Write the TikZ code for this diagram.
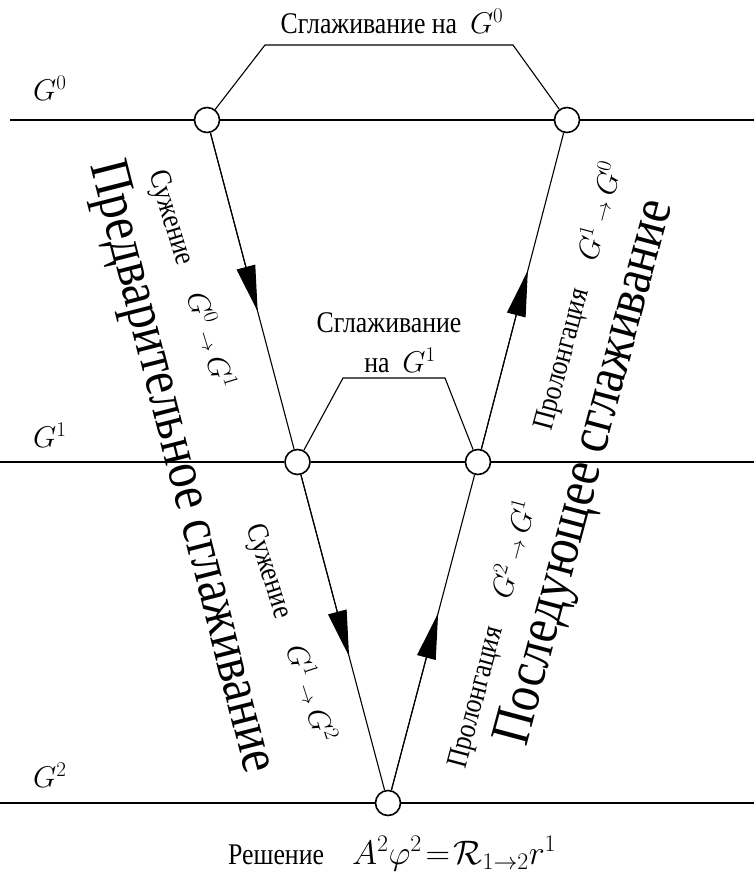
\RequirePackage{fix-cm}
\documentclass[tikz,border=0pt]{standalone}
\usepackage{fontspec}
\setmainfont[FakeStretch=0.86]{Liberation Serif}
\usetikzlibrary{arrows.meta,calc}
\begin{document}
\begin{tikzpicture}[x=1pt,y=-1pt,
  hline/.style={line width=1.8pt},
  sline/.style={line width=1.1pt},
  vtx/.style={circle, draw, fill=white, line width=1.6pt, minimum size=25pt, inner sep=0pt},
  arr/.style={-{Triangle[length=46pt,width=19pt]}, line width=1.1pt},
  lbl/.style={font=\fontsize{30}{36}\selectfont, inner sep=0pt},
  big/.style={font=\fontsize{56}{64}\selectfont, inner sep=0pt}]
\useasboundingbox (0,0) rectangle (754,876);
% vertices
\node[vtx] (c00) at (207,120) {};
\node[vtx] (c01) at (567,120) {};
\node[vtx] (c10) at (297.5,462) {};
\node[vtx] (c11) at (478,462) {};
\node[vtx] (c2) at (388,803) {};
% level lines
\coordinate (L0) at (10,120);  \coordinate (R0) at (754,120);
\coordinate (L1) at (0,462);   \coordinate (R1) at (754,462);
\coordinate (L2) at (0,803);   \coordinate (R2) at (754,803);
\draw[hline] (L0) -- (c00) -- (c01) -- (R0);
\draw[hline] (L1) -- (c10) -- (c11) -- (R1);
\draw[hline] (L2) -- (c2) -- (R2);
% level labels
\node[lbl, anchor=base west] (g0) at (33,100) {$G^0$};
\node[lbl, anchor=base west] (g1) at (33,447) {$G^1$};
\node[lbl, anchor=base west] (g2) at (33,787) {$G^2$};
% smoothing trapezoids
\coordinate (a0) at (265,45); \coordinate (b0) at (513,45);
\draw[sline] (c00) -- (a0) -- (b0) -- (c01);
\coordinate (a1) at (343,378); \coordinate (b1) at (445,378);
\draw[sline] (c10) -- (a1) -- (b1) -- (c11);
\node[lbl, anchor=base] (t0) at (392,33) {Сглаживание на\ \ $G^0$};
\node[lbl, anchor=base] (t1a) at (389,332) {Сглаживание};
\node[lbl, anchor=base] (t1b) at (400,372) {на\ \ $G^1$};
% V-cycle legs
\draw[sline] (c00) -- (c10);
\draw[sline] (c10) -- (c2);
\draw[sline] (c2) -- (c11);
\draw[sline] (c11) -- (c01);
\draw[arr] (c00) -- ($(c00)!0.56!(c10)$);
\draw[arr] (c10) -- ($(c10)!0.57!(c2)$);
\draw[arr] (c2) -- ($(c2)!0.557!(c11)$);
\draw[arr] (c11) -- ($(c11)!0.56!(c01)$);
% rotated labels
\node[lbl, rotate=-73] (r1) at (191,280) {Сужение\quad $G^0\ {\scriptstyle\rightarrow}\ G^1$};
\node[lbl, rotate=-72] (r2) at (290,633) {Сужение\quad $G^1\ {\scriptstyle\rightarrow}\ G^2$};
\node[lbl, rotate=75] (p1) at (578,296) {Пролонгация\quad $G^1\ {\scriptstyle\rightarrow}\ G^0$};
\node[lbl, rotate=75] (p2) at (492,634) {Пролонгация\quad $G^2\ {\scriptstyle\rightarrow}\ G^1$};
\node[big, rotate=-75.7] (pre) at (180,467) {Предварительное сглаживание};
\node[big, rotate=75] (post) at (587,473) {Последующее сглаживание};
% solution
\node[lbl, anchor=base west] (sol) at (228,864) {Решение};
\node[anchor=base west, inner sep=0pt, font=\fontsize{34}{40}\selectfont] (eq) at (352,864) {$A^2\varphi^2\!=\!\mathcal{R}_{1\to2}r^1$};
\end{tikzpicture}
\end{document}
